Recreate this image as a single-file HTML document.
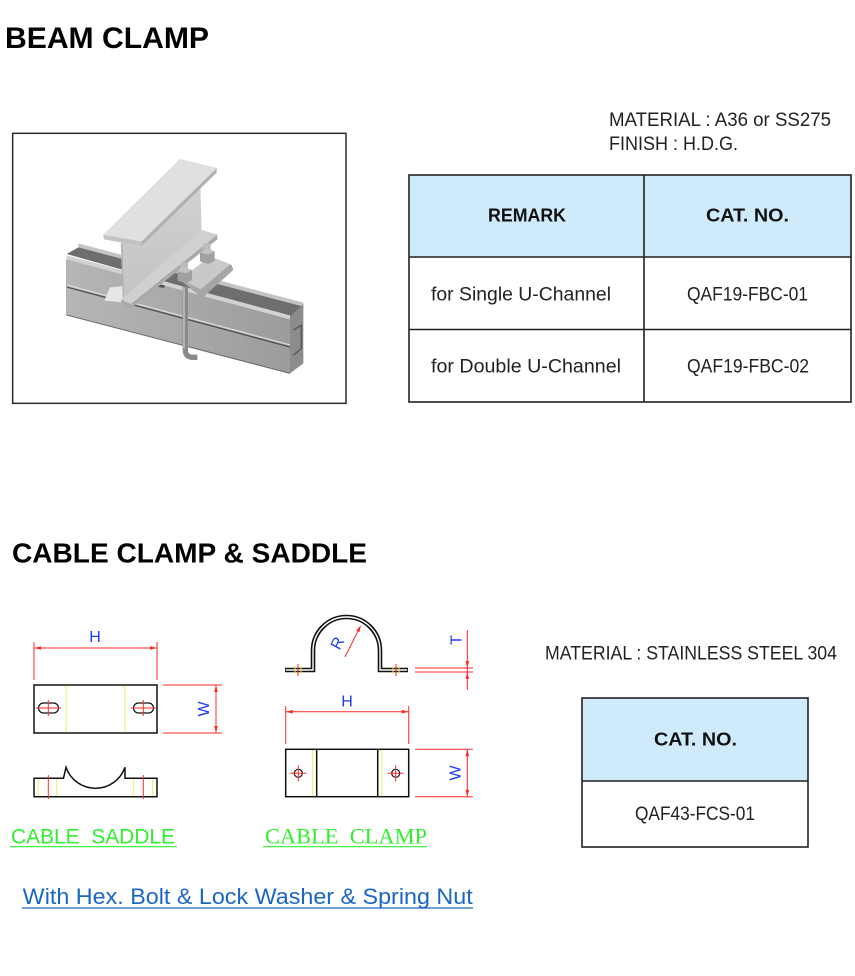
<!DOCTYPE html>
<html>
<head>
<meta charset="utf-8">
<style>
html,body{margin:0;padding:0;background:#fff;}
body{width:855px;height:976px;overflow:hidden;position:relative;}
svg{position:absolute;left:0;top:0;}
</style>
</head>
<body>
<svg width="855" height="976" viewBox="0 0 855 976" xmlns="http://www.w3.org/2000/svg" font-family="'Liberation Sans', sans-serif">
  <defs>
    <linearGradient id="gch" x1="0" y1="0" x2="1" y2="0">
      <stop offset="0" stop-color="#b6b6b6"/>
      <stop offset="1" stop-color="#9c9c9c"/>
    </linearGradient>
    <linearGradient id="gweb" x1="0" y1="0" x2="0" y2="1">
      <stop offset="0" stop-color="#d2d4d4"/>
      <stop offset="1" stop-color="#c2c4c4"/>
    </linearGradient>
  </defs>

  <!-- Titles -->
  <text x="5" y="48" font-size="30" font-weight="bold" fill="#000" textLength="204" lengthAdjust="spacingAndGlyphs">BEAM CLAMP</text>
  <text x="12" y="562.5" font-size="28" font-weight="bold" fill="#000" textLength="355" lengthAdjust="spacingAndGlyphs">CABLE CLAMP &amp; SADDLE</text>

  <!-- Beam clamp picture -->
  <svg x="10" y="130" width="340" height="280" viewBox="0 0 1020 840">
    <rect x="8" y="10" width="1000" height="810" fill="#fff" stroke="#2a2a2a" stroke-width="4.5"/>
    <!-- channel back lip & interior -->
    <polygon points="205,340 880,518 880,534 205,356" fill="#c4c4c4"/>
    <polygon points="170,372 205,352 880,530 840,560" fill="#6e6e6e"/>
    <polygon points="170,376 840,556 840,568 170,388" fill="#d2d2d2"/>
    <!-- channel front face -->
    <polygon points="170,388 840,568 840,730 170,555" fill="url(#gch)"/>
    <line x1="170" y1="465" x2="840" y2="645" stroke="#d8d8d8" stroke-width="4"/>
    <line x1="170" y1="471" x2="840" y2="651" stroke="#505050" stroke-width="4"/>
    <line x1="170" y1="555" x2="840" y2="730" stroke="#6a6a6a" stroke-width="3"/>
    <line x1="170" y1="388" x2="170" y2="555" stroke="#888" stroke-width="2"/>
    <!-- right end -->
    <polygon points="840,560 880,522 880,700 840,730" fill="#8c8c8c"/>
    <polyline points="850,600 874,586 874,655 850,676" fill="none" stroke="#555" stroke-width="4"/>
    <!-- bottom flange left -->
    <polygon points="283,512 300,472 345,468 345,518" fill="#e6e6e6"/>
    <!-- web -->
    <polygon points="332,340 570,125 575,305 340,515" fill="url(#gweb)"/>
    <line x1="336" y1="340" x2="340" y2="515" stroke="#a9abab" stroke-width="3"/>
    <!-- slit -->
    <polygon points="420,458 465,466 462,474 420,466" fill="#555"/>
    <!-- bottom flange -->
    <polygon points="334,508 575,300 622,314 362,522" fill="#d4d4d4"/>
    <polygon points="334,508 362,522 622,314 622,328 362,536 334,522" fill="#a9a9a9"/>
    <polygon points="334,508 575,300 622,314 362,522" fill="#d0d0d0"/>
    <!-- top flange -->
    <polygon points="280,315 510,88 620,115 395,335" fill="#dfe1e1" stroke="#bdbdbd" stroke-width="1"/>
    <polygon points="280,315 395,335 395,348 282,328" fill="#c2c4c4"/>
    <polygon points="395,335 620,115 620,128 395,348" fill="#b0b2b2"/>
    <!-- U-bolt rod -->
    <path d="M526,470 V660 Q526,682 550,682 H562" stroke="#8a8a8a" stroke-width="16" fill="none"/>
    <path d="M522,472 V655" stroke="#c6c6c6" stroke-width="4" fill="none"/>
    <!-- bracket -->
    <polygon points="510,450 600,380 665,405 670,420 575,505 560,490" fill="#a6a6a6"/>
    <polygon points="512,448 600,382 660,404 572,478" fill="#c9c9c9"/>
    <!-- nuts -->
    <rect x="580" y="340" width="22" height="22" fill="#bdbdbd"/>
    <polygon points="570,368 590,356 614,364 614,392 595,402 570,394" fill="#a0a0a0"/>
    <polygon points="570,368 590,356 614,364 595,374" fill="#c2c2c2"/>
    <rect x="512" y="398" width="22" height="22" fill="#bdbdbd"/>
    <polygon points="503,424 522,412 546,420 546,450 528,460 503,452" fill="#a0a0a0"/>
    <polygon points="503,424 522,412 546,420 528,430" fill="#c2c2c2"/>
  </svg>

  <!-- Material text (beam) -->
  <text x="609" y="126" font-size="19" fill="#222" textLength="222" lengthAdjust="spacingAndGlyphs">MATERIAL : A36 or SS275</text>
  <text x="609" y="150" font-size="19" fill="#222" textLength="129" lengthAdjust="spacingAndGlyphs">FINISH : H.D.G.</text>

  <!-- Table 1 -->
  <rect x="409" y="175" width="442" height="82" fill="#cfeafb"/>
  <rect x="409" y="175" width="442" height="227" fill="none" stroke="#222" stroke-width="1.6"/>
  <line x1="644" y1="175" x2="644" y2="402" stroke="#222" stroke-width="1.6"/>
  <line x1="409" y1="257" x2="851" y2="257" stroke="#222" stroke-width="1.6"/>
  <line x1="409" y1="329.5" x2="851" y2="329.5" stroke="#222" stroke-width="1.6"/>
  <text x="488" y="221.5" font-size="18" font-weight="bold" fill="#111" textLength="78" lengthAdjust="spacingAndGlyphs">REMARK</text>
  <text x="706" y="221.5" font-size="18" font-weight="bold" fill="#111" textLength="83" lengthAdjust="spacingAndGlyphs">CAT. NO.</text>
  <text x="431" y="300.7" font-size="19" fill="#222" textLength="180" lengthAdjust="spacingAndGlyphs">for Single U-Channel</text>
  <text x="687" y="300.7" font-size="19" fill="#222" textLength="121" lengthAdjust="spacingAndGlyphs">QAF19-FBC-01</text>
  <text x="431" y="372.7" font-size="19" fill="#222" textLength="190" lengthAdjust="spacingAndGlyphs">for Double U-Channel</text>
  <text x="687" y="372.7" font-size="19" fill="#222" textLength="122" lengthAdjust="spacingAndGlyphs">QAF19-FBC-02</text>

  <!-- Material (cable) -->
  <text x="545" y="659.5" font-size="19" fill="#222" textLength="292" lengthAdjust="spacingAndGlyphs">MATERIAL : STAINLESS STEEL 304</text>

  <!-- Table 2 -->
  <rect x="582" y="698" width="226" height="83" fill="#cfeafb"/>
  <rect x="582" y="698" width="226" height="149" fill="none" stroke="#222" stroke-width="1.6"/>
  <line x1="582" y1="781" x2="808" y2="781" stroke="#222" stroke-width="1.6"/>
  <text x="654" y="745.5" font-size="18" font-weight="bold" fill="#111" textLength="83" lengthAdjust="spacingAndGlyphs">CAT. NO.</text>
  <text x="635" y="820" font-size="19" fill="#222" textLength="120" lengthAdjust="spacingAndGlyphs">QAF43-FCS-01</text>

  <!-- ===== CABLE SADDLE drawing ===== -->
  <g stroke="#ff2a2a" stroke-width="1" fill="none">
    <line x1="34" y1="642" x2="34" y2="680"/>
    <line x1="157" y1="642" x2="157" y2="680"/>
    <line x1="34" y1="648" x2="157" y2="648"/>
    <line x1="163" y1="685" x2="222" y2="685"/>
    <line x1="163" y1="733" x2="222" y2="733"/>
    <line x1="216" y1="685" x2="216" y2="733"/>
  </g>
  <g fill="#ff2a2a">
    <polygon points="34,648 41,646.2 41,649.8"/>
    <polygon points="157,648 150,646.2 150,649.8"/>
    <polygon points="216,685 214.2,692 217.8,692"/>
    <polygon points="216,733 214.2,726 217.8,726"/>
  </g>
  <text x="95" y="642" font-size="16" fill="#1f3cff" text-anchor="middle">H</text>
  <text transform="translate(203.5,709) rotate(-90)" x="0" y="5.7" font-size="16" fill="#1f3cff" text-anchor="middle">W</text>
  <rect x="34" y="685" width="123" height="48" fill="none" stroke="#111" stroke-width="1.5"/>
  <g stroke="#eeee66" stroke-width="1">
    <line x1="66" y1="685.7" x2="66" y2="732.3"/>
    <line x1="125" y1="685.7" x2="125" y2="732.3"/>
  </g>
  <rect x="38.5" y="703" width="20" height="10" rx="5" fill="none" stroke="#111" stroke-width="1.2"/>
  <rect x="133.5" y="703" width="20" height="10" rx="5" fill="none" stroke="#111" stroke-width="1.2"/>
  <g stroke="#ff2a2a" stroke-width="1">
    <line x1="36" y1="708" x2="61" y2="708"/>
    <line x1="48.3" y1="700" x2="48.3" y2="716"/>
    <line x1="131" y1="708" x2="156" y2="708"/>
    <line x1="143.3" y1="700" x2="143.3" y2="716"/>
  </g>
  <!-- side view -->
  <path d="M34,778.3 L63.5,778.3 L66,767.3 A31.2,31.2 0 0 0 125,767.3 L125,778.3 L157,778.3 L157,796.7 L34,796.7 Z" fill="none" stroke="#111" stroke-width="1.5"/>
  <g stroke="#eeee66" stroke-width="1">
    <line x1="38.3" y1="779" x2="38.3" y2="796"/>
    <line x1="56.7" y1="779" x2="56.7" y2="796"/>
    <line x1="133.3" y1="779" x2="133.3" y2="796"/>
    <line x1="152.7" y1="779" x2="152.7" y2="796"/>
  </g>
  <g stroke="#ff2a2a" stroke-width="1">
    <line x1="48.3" y1="775" x2="48.3" y2="799"/>
    <line x1="143.3" y1="775" x2="143.3" y2="799"/>
  </g>
  <text x="11" y="843.5" font-size="21" fill="#2ef02e" textLength="164" lengthAdjust="spacingAndGlyphs" xml:space="preserve">CABLE  SADDLE</text>
  <line x1="10" y1="846.7" x2="177" y2="846.7" stroke="#2ef02e" stroke-width="1.2"/>

  <!-- ===== CABLE CLAMP drawing ===== -->
  <path d="M285,670 H313 V650.5 A33.5,33.5 0 0 1 380,650.5 V670 H408" fill="none" stroke="#111" stroke-width="4.6"/>
  <path d="M285.8,670 H313 V650.5 A33.5,33.5 0 0 1 380,650.5 V670 H407.2" fill="none" stroke="#fff" stroke-width="1.4"/>
  <g stroke="#eeee66" stroke-width="1">
    <line x1="295" y1="666" x2="295" y2="674"/>
    <line x1="301" y1="666" x2="301" y2="674"/>
    <line x1="393" y1="666" x2="393" y2="674"/>
    <line x1="399" y1="666" x2="399" y2="674"/>
  </g>
  <g stroke="#ff2a2a" stroke-width="1" fill="none">
    <line x1="298" y1="664" x2="298" y2="676"/>
    <line x1="396" y1="664" x2="396" y2="676"/>
    <line x1="345" y1="657" x2="360" y2="627"/>
    <line x1="415" y1="668" x2="473" y2="668"/>
    <line x1="415" y1="672" x2="473" y2="672"/>
    <line x1="467.3" y1="630" x2="467.3" y2="690"/>
    <line x1="285.7" y1="706" x2="285.7" y2="744"/>
    <line x1="408.7" y1="706" x2="408.7" y2="744"/>
    <line x1="285.7" y1="711.7" x2="408.7" y2="711.7"/>
    <line x1="415" y1="749.3" x2="473" y2="749.3"/>
    <line x1="415" y1="796.7" x2="473" y2="796.7"/>
    <line x1="467.3" y1="749.3" x2="467.3" y2="796.7"/>
  </g>
  <g fill="#ff2a2a">
    <polygon points="361,625 359.5,632.1 356.3,630.5"/>
    <polygon points="467.3,668 465.5,661 469.1,661"/>
    <polygon points="467.3,672 465.5,679 469.1,679"/>
    <polygon points="285.7,711.7 292.7,709.9 292.7,713.5"/>
    <polygon points="408.7,711.7 401.7,709.9 401.7,713.5"/>
    <polygon points="467.3,749.3 465.5,756.3 469.1,756.3"/>
    <polygon points="467.3,796.7 465.5,789.7 469.1,789.7"/>
  </g>
  <text transform="translate(337,643) rotate(-62)" x="0" y="5.7" font-size="16" fill="#1f3cff" text-anchor="middle">R</text>
  <text transform="translate(456,640) rotate(-90)" x="0" y="5.7" font-size="16" fill="#1f3cff" text-anchor="middle">T</text>
  <text x="347" y="706.5" font-size="16" fill="#1f3cff" text-anchor="middle">H</text>
  <text transform="translate(455,773) rotate(-90)" x="0" y="5.7" font-size="16" fill="#1f3cff" text-anchor="middle">W</text>
  <rect x="285.7" y="749.3" width="123" height="47.4" fill="none" stroke="#111" stroke-width="1.5"/>
  <line x1="316.7" y1="749.3" x2="316.7" y2="796.7" stroke="#111" stroke-width="1.5"/>
  <line x1="377.7" y1="749.3" x2="377.7" y2="796.7" stroke="#111" stroke-width="1.5"/>
  <g stroke="#eeee66" stroke-width="1">
    <line x1="312.7" y1="750" x2="312.7" y2="796"/>
    <line x1="381.7" y1="750" x2="381.7" y2="796"/>
  </g>
  <circle cx="298.3" cy="773.3" r="4" fill="none" stroke="#111" stroke-width="1.2"/>
  <circle cx="395.7" cy="773.3" r="4" fill="none" stroke="#111" stroke-width="1.2"/>
  <g stroke="#ff2a2a" stroke-width="1">
    <line x1="290.3" y1="773.3" x2="306.3" y2="773.3"/>
    <line x1="298.3" y1="765.3" x2="298.3" y2="781.3"/>
    <line x1="387.7" y1="773.3" x2="403.7" y2="773.3"/>
    <line x1="395.7" y1="765.3" x2="395.7" y2="781.3"/>
  </g>
  <text x="265" y="843.5" font-size="22" fill="#2ef02e" font-family="'Liberation Serif', serif" textLength="162" lengthAdjust="spacingAndGlyphs" xml:space="preserve">CABLE  CLAMP</text>
  <line x1="263" y1="846.7" x2="427" y2="846.7" stroke="#2ef02e" stroke-width="1.2"/>

  <!-- link -->
  <text x="22.7" y="904" font-size="22" fill="#1a66c8" textLength="450" lengthAdjust="spacingAndGlyphs">With Hex. Bolt &amp; Lock Washer &amp; Spring Nut</text>
  <line x1="22" y1="908" x2="473" y2="908" stroke="#1a66c8" stroke-width="1.2"/>
</svg>
</body>
</html>
